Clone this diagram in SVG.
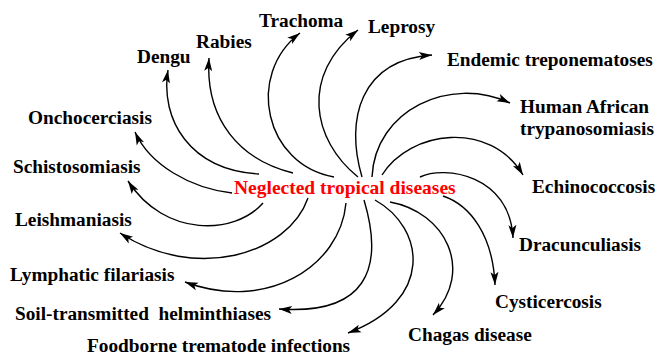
<svg xmlns="http://www.w3.org/2000/svg" width="657" height="355" viewBox="0 0 657 355">
<style>
.lbl{font-family:"Liberation Serif","Times New Roman",serif;font-weight:bold;font-size:19.3px;fill:#000}
.ttl{font-family:"Liberation Serif","Times New Roman",serif;font-weight:bold;font-size:19.5px;fill:#ff0000}
.c{fill:none;stroke:#000;stroke-width:1.4;marker-end:url(#ah)}
</style>
<defs>
<marker id="ah" markerUnits="userSpaceOnUse" markerWidth="14" markerHeight="9" refX="13" refY="4" orient="auto" overflow="visible">
<path d="M0,0 L13,4 L0,8 L3,4 z" fill="#000"/>
</marker>
</defs>
<rect width="657" height="355" fill="#fff"/>
<g id="connectors">
<path class="c" d="M259,174 C190,170 160,120 168,70"/>
<path class="c" d="M293,173 C240,160 205,120 209,58"/>
<path class="c" d="M334,177 C265,165 245,75 300,33"/>
<path class="c" d="M358,177 C312,140 300,75 358,30"/>
<path class="c" d="M362,177 C345,120 360,60 432,55"/>
<path class="c" d="M372,177 C375,110 450,75 510,103"/>
<path class="c" d="M382,175 C410,130 490,120 523,175"/>
<path class="c" d="M420,177 C445,165 510,175 513,238"/>
<path class="c" d="M443,196 C470,205 493,235 495,285"/>
<path class="c" d="M390,202 C445,212 475,270 433,315"/>
<path class="c" d="M375,200 C425,228 435,300 348,333"/>
<path class="c" d="M364,200 C385,270 365,315 279,309"/>
<path class="c" d="M346,203 C340,268 265,312 185,282"/>
<path class="c" d="M308,198 C288,255 195,282 120,233"/>
<path class="c" d="M263,203 C235,235 165,238 128,181"/>
<path class="c" d="M232,193 C190,188 150,165 135,132"/>
</g>
<g id="center"><text class="ttl" x="234" y="194">Neglected tropical diseases</text></g>
<g id="trachoma"><text class="lbl" x="259" y="27">Trachoma</text></g>
<g id="leprosy"><text class="lbl" x="368" y="33">Leprosy</text></g>
<g id="rabies"><text class="lbl" x="196" y="48">Rabies</text></g>
<g id="dengu"><text class="lbl" x="137" y="63">Dengu</text></g>
<g id="onchocerciasis"><text class="lbl" x="28" y="124">Onchocerciasis</text></g>
<g id="schistosomiasis"><text class="lbl" x="13" y="173">Schistosomiasis</text></g>
<g id="leishmaniasis"><text class="lbl" x="15" y="226">Leishmaniasis</text></g>
<g id="lymphatic"><text class="lbl" x="10" y="281">Lymphatic filariasis</text></g>
<g id="soil"><text class="lbl" x="15" y="320" xml:space="preserve">Soil-transmitted  helminthiases</text></g>
<g id="foodborne"><text class="lbl" x="87" y="351.5">Foodborne trematode infections</text></g>
<g id="chagas"><text class="lbl" x="408" y="341">Chagas disease</text></g>
<g id="cysticercosis"><text class="lbl" x="495" y="308">Cysticercosis</text></g>
<g id="dracunculiasis"><text class="lbl" x="519" y="251">Dracunculiasis</text></g>
<g id="echinococcosis"><text class="lbl" x="532" y="193">Echinococcosis</text></g>
<g id="hat"><text class="lbl" x="520" y="113">Human African</text><text class="lbl" x="520" y="135">trypanosomiasis</text></g>
<g id="endemic"><text class="lbl" x="447" y="66">Endemic treponematoses</text></g>
</svg>
